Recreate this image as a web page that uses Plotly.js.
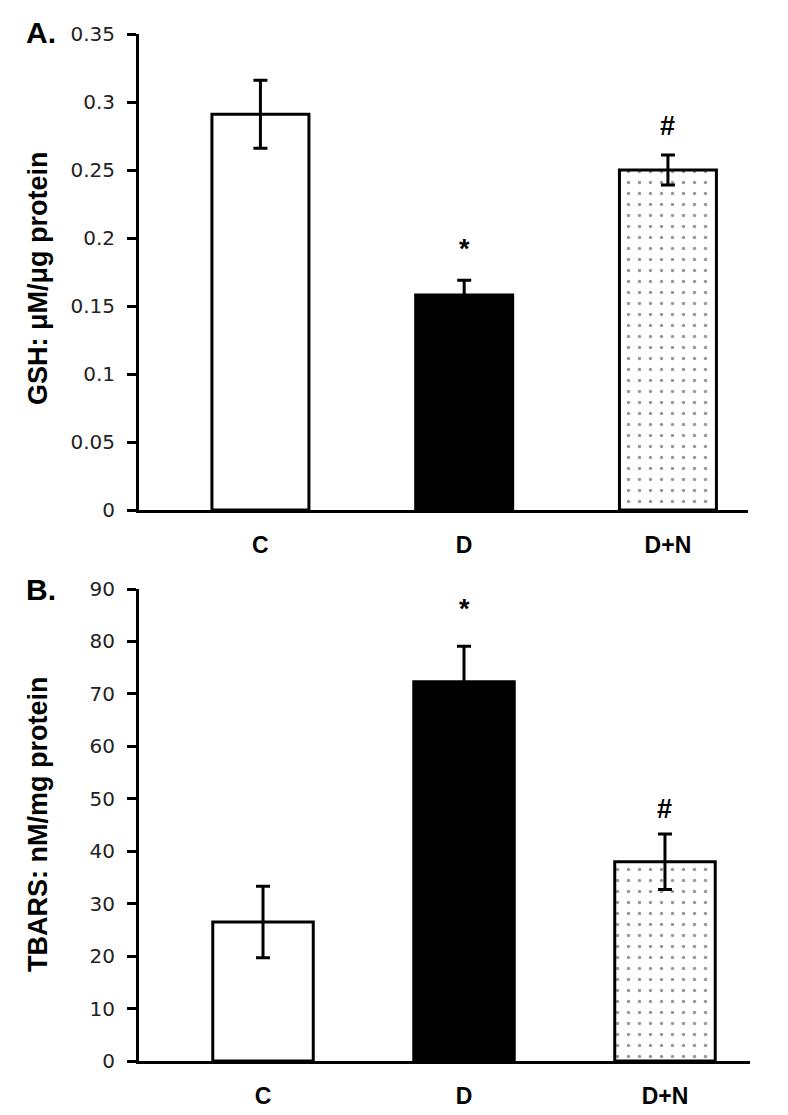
<!DOCTYPE html>
<html>
<head>
<meta charset="utf-8">
<script src="https://cdn.plot.ly/plotly-3.0.1.min.js"></script>
<style>html,body{margin:0;padding:0;background:#fff;}#chart{width:788px;height:1115px;}</style>
</head>
<body>
<div id="chart"></div>
<script>
// ---- data ----
const categories = ['C', 'D', 'D+N'];
const gshValues = [0.291, 0.158, 0.250];
const gshErrors = [0.025, 0.011, 0.011];
const gshMarks = ['', '*', '#'];
const tbarsValues = [26.5, 72.3, 38.0];
const tbarsErrors = [6.8, 6.8, 5.3];
const tbarsMarks = ['', '*', '#'];
const gshTicks = [0, 0.05, 0.1, 0.15, 0.2, 0.25, 0.3, 0.35];
const tbarsTicks = [0, 10, 20, 30, 40, 50, 60, 70, 80, 90];
const gshTitle = 'GSH: \u03bcM/\u03bcg protein';
const tbarsTitle = 'TBARS: nM/mg protein';

// ---- styles ----
const fillColors = ['#ffffff', '#000000', '#ffffff'];
const patternShapes = ['', '', '.'];
const W = 788, H = 1115;
const px = v => v / W, py = v => 1 - v / H;

function barTraces(vals, errs, xa, ya, width) {
  return categories.map((c, i) => {
    const t = {
      type: 'bar', x: [c], y: [vals[i]], xaxis: xa, yaxis: ya, width: width,
      marker: {color: fillColors[i], line: {color: '#000', width: 3}},
      error_y: {type: 'data', array: [errs[i]], visible: true, color: '#000', thickness: 3, width: 7},
      showlegend: false, hoverinfo: 'skip'
    };
    if (patternShapes[i]) {
      t.marker.pattern = {shape: patternShapes[i], fgcolor: '#333', bgcolor: '#ffffff', fillmode: 'overlay', size: 11, solidity: 0.08};
    }
    return t;
  });
}

const tickFont = {family: 'DejaVu Sans', size: 20, color: '#222'};
const catFont = {family: 'Liberation Sans', size: 23, color: '#000', weight: 'bold'};
const titleFont = {family: 'Liberation Sans', size: 27, color: '#000', weight: 'bold'};
const markFont = {family: 'Liberation Sans', size: 27, weight: 'bold', color: '#000'};

function yAxis(range, ticks, domain, anchor) {
  return {
    domain: domain, range: range, tickvals: ticks, ticktext: ticks.map(String), anchor: anchor,
    showline: true, linewidth: 3, linecolor: '#000', ticks: 'outside', ticklen: 9, tickwidth: 3, tickcolor: '#000',
    showgrid: false, zeroline: false, tickfont: tickFont, ticklabelstandoff: 8
  };
}
function xAxis(range, domain, anchor) {
  return {
    domain: domain, range: range, type: 'category', anchor: anchor,
    showline: true, linewidth: 3, linecolor: '#000', ticks: '', showgrid: false, zeroline: false,
    tickfont: catFont, ticklabelstandoff: 12
  };
}

const annotations = [];
categories.forEach((c, i) => {
  if (gshMarks[i]) annotations.push({xref: 'x', yref: 'y', x: c, y: gshValues[i] + gshErrors[i], text: gshMarks[i],
    showarrow: false, yanchor: 'bottom', yshift: gshMarks[i] === '*' ? 14 : 12, font: markFont});
  if (tbarsMarks[i]) annotations.push({xref: 'x2', yref: 'y2', x: c, y: tbarsValues[i] + tbarsErrors[i], text: tbarsMarks[i],
    showarrow: false, yanchor: 'bottom', yshift: tbarsMarks[i] === '*' ? 20 : 8, font: markFont});
});
annotations.push({xref: 'paper', yref: 'paper', x: px(24), y: py(32), xanchor: 'left', yanchor: 'middle', text: 'A.', showarrow: false,
  font: {family: 'Liberation Sans', size: 30, weight: 'bold', color: '#000'}});
annotations.push({xref: 'paper', yref: 'paper', x: px(24), y: py(589), xanchor: 'left', yanchor: 'middle', text: 'B.', showarrow: false,
  font: {family: 'Liberation Sans', size: 30, weight: 'bold', color: '#000'}});
annotations.push({xref: 'paper', yref: 'paper', x: px(38), y: py(278), xanchor: 'center', yanchor: 'middle', textangle: -90,
  text: gshTitle, showarrow: false, font: titleFont});
annotations.push({xref: 'paper', yref: 'paper', x: px(38), y: py(825), xanchor: 'center', yanchor: 'middle', textangle: -90,
  text: tbarsTitle, showarrow: false, font: titleFont});

const layout = {
  width: W, height: H, margin: {l: 0, r: 0, t: 0, b: 0},
  paper_bgcolor: '#fff', plot_bgcolor: '#fff', bargap: 0, barmode: 'overlay',
  xaxis: xAxis([-0.596, 2.393], [px(139), px(748)], 'y'),
  yaxis: yAxis([0, 0.35], gshTicks, [py(510), py(34)], 'x'),
  xaxis2: xAxis([-0.617, 2.423], [px(139), px(750)], 'y2'),
  yaxis2: yAxis([0, 90], tbarsTicks, [py(1061), py(589)], 'x2'),
  annotations: annotations
};

Plotly.newPlot('chart',
  barTraces(gshValues, gshErrors, 'x', 'y', 0.476).concat(barTraces(tbarsValues, tbarsErrors, 'x2', 'y2', 0.5)),
  layout, {staticPlot: true, displayModeBar: false});
</script>
</body>
</html>
